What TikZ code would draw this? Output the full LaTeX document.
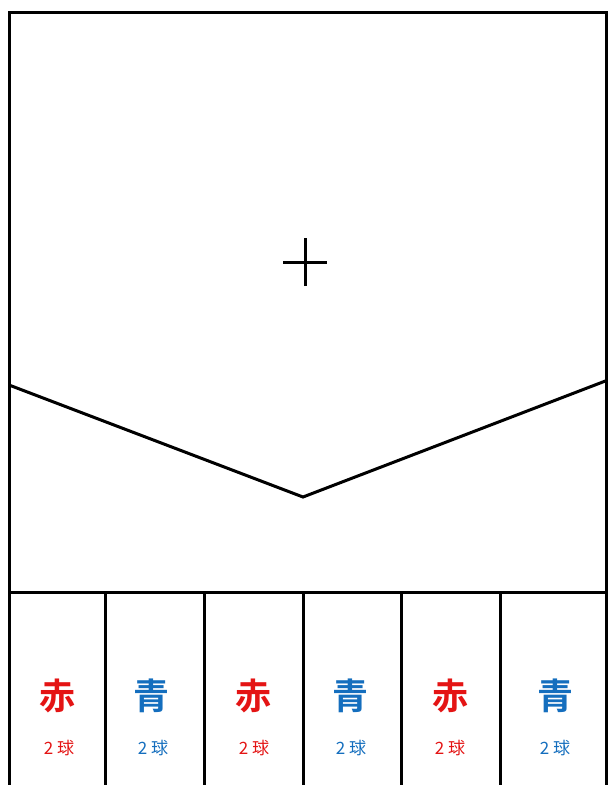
\documentclass[tikz,border=0pt]{standalone}
\usepackage{fontspec}
\newfontfamily\jpfont{Noto Sans CJK JP}
\newfontfamily\jpbold{Noto Sans CJK JP Bold}
\definecolor{akared}{RGB}{228,20,20}
\definecolor{aoblue}{RGB}{20,110,190}
\tikzset{
  frameline/.style={line width=3pt, black},
  bigchar/.style={font=\jpbold\fontsize{36}{36}\selectfont, inner sep=0pt},
  smallcnt/.style={font=\jpfont\fontsize{17}{17}\selectfont, inner sep=0pt},
}
\begin{document}
\begin{tikzpicture}[x=1pt,y=-1pt]
\useasboundingbox (0,0) rectangle (608,785);
\clip (0,0) rectangle (608,785);
\fill[white] (0,0) rectangle (608,785);
% outer frame
\draw[frameline] (9,800) -- (9,12) -- (606.5,12) -- (606.5,800);
% divider
\draw[frameline] (9,592) -- (606.5,592);
% column lines
\foreach \x in {105,204,303,401,500} {
  \draw[frameline] (\x,592) -- (\x,800);
}
% V line
\coordinate (vl) at (9,385);
\coordinate (vb) at (303,497);
\coordinate (vr) at (608,380);
\draw[frameline, line join=miter] (vl) -- (vb) -- (vr);
% cross
\coordinate (cc) at (305,262);
\draw[line width=3pt] ([xshift=-22pt]cc) -- ([xshift=22pt]cc);
\draw[line width=3pt] ([yshift=-24pt]cc) -- ([yshift=24pt]cc);
% texts
\node[bigchar, text=akared] (c1) at (57,696) {赤};
\node[bigchar, text=aoblue] (c2) at (151,696) {青};
\node[bigchar, text=akared] (c3) at (253,696) {赤};
\node[bigchar, text=aoblue] (c4) at (350,696) {青};
\node[bigchar, text=akared] (c5) at (450,696) {赤};
\node[bigchar, text=aoblue] (c6) at (555,696) {青};
\node[smallcnt, text=akared] (n1) at (59,748) {2 球};
\node[smallcnt, text=aoblue] (n2) at (153,748) {2 球};
\node[smallcnt, text=akared] (n3) at (254,748) {2 球};
\node[smallcnt, text=aoblue] (n4) at (351,748) {2 球};
\node[smallcnt, text=akared] (n5) at (450,748) {2 球};
\node[smallcnt, text=aoblue] (n6) at (555,748) {2 球};
\end{tikzpicture}
\end{document}
